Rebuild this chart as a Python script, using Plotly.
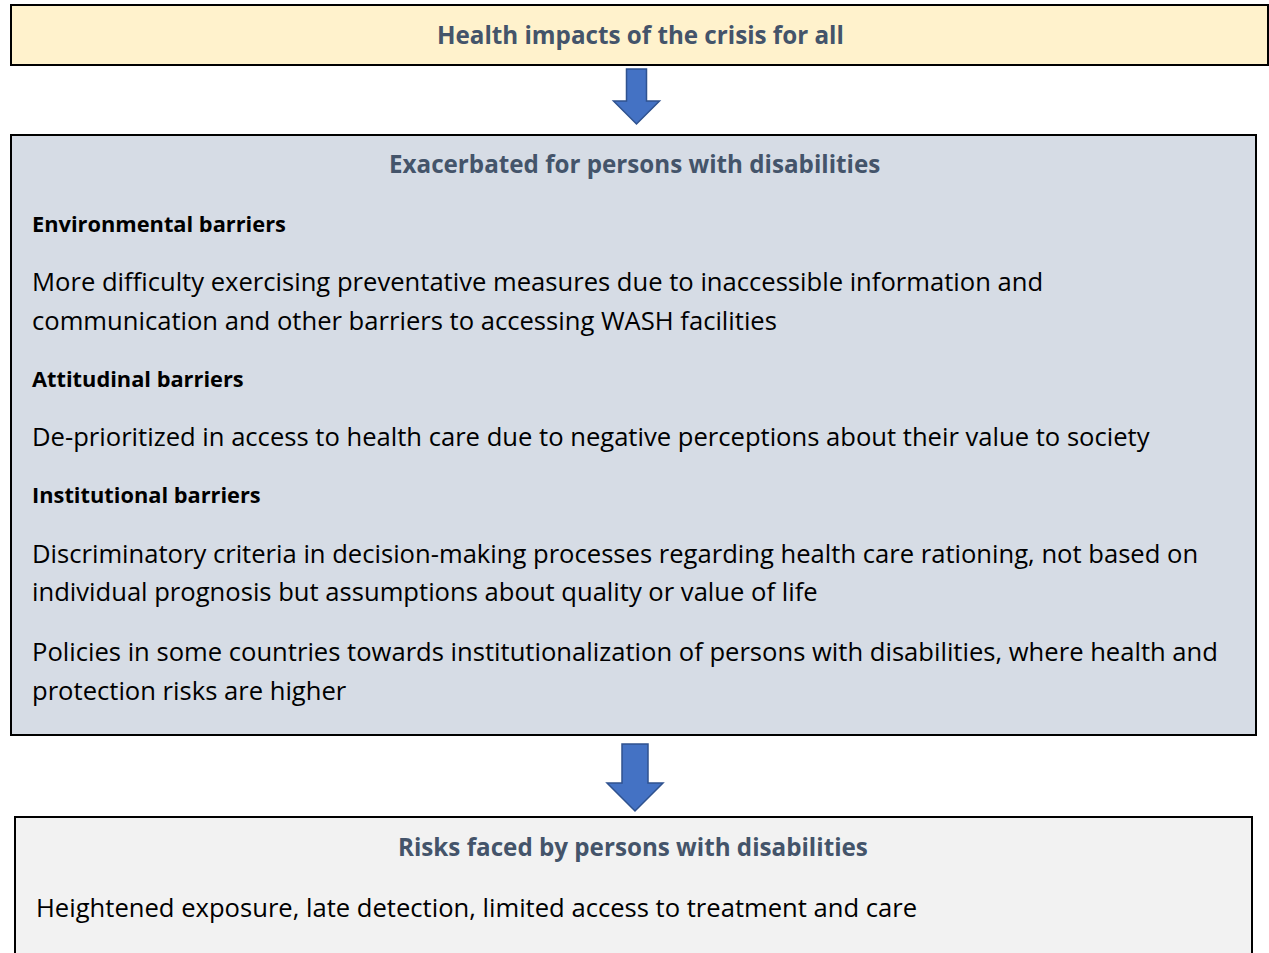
import plotly.graph_objects as go

W, H = 1269, 953
FONT = "Open Sans"

top_title = "Health impacts of the crisis for all"
mid_title = "Exacerbated for persons with disabilities"
bottom_title = "Risks faced by persons with disabilities"

# (text, bold, y)
mid_lines = [
    ("Environmental barriers", True, 223),
    ("More difficulty exercising preventative measures due to inaccessible information and", False, 281),
    ("communication and other barriers to accessing WASH facilities", False, 320),
    ("Attitudinal barriers", True, 378),
    ("De-prioritized in access to health care due to negative perceptions about their value to society", False, 436),
    ("Institutional barriers", True, 494),
    ("Discriminatory criteria in decision-making processes regarding health care rationing, not based on", False, 553),
    ("individual prognosis but assumptions about quality or value of life", False, 591),
    ("Policies in some countries towards institutionalization of persons with disabilities, where health and", False, 651),
    ("protection risks are higher", False, 690),
]
bottom_lines = [
    ("Heightened exposure, late detection, limited access to treatment and care", False, 907),
]

BODY = 25.6
SUB = 21.8
HEAD = 24.2

fig = go.Figure()

shapes = []
shapes.append(dict(type="rect", x0=11, x1=1268, y0=5, y1=65,
                   fillcolor="#FFF2CC", line=dict(color="#000000", width=2), layer="below"))
shapes.append(dict(type="rect", x0=11, x1=1256, y0=135, y1=735,
                   fillcolor="#D6DCE5", line=dict(color="#000000", width=2), layer="below"))
shapes.append(dict(type="rect", x0=15, x1=1252, y0=817, y1=970,
                   fillcolor="#F2F2F2", line=dict(color="#000000", width=2), layer="below"))


def arrow(xc, ytop, ybot, shaft_w, head_w, head_h):
    ys = ybot - head_h
    p = (f"M {xc-shaft_w/2},{ytop} L {xc+shaft_w/2},{ytop} L {xc+shaft_w/2},{ys} "
         f"L {xc+head_w/2},{ys} L {xc},{ybot} L {xc-head_w/2},{ys} L {xc-shaft_w/2},{ys} Z")
    return dict(type="path", path=p, fillcolor="#4472C4",
                line=dict(color="#2F528F", width=1.5))


shapes.append(arrow(636.5, 69, 124, 20, 46, 23))
shapes.append(arrow(635, 744, 811, 26, 56, 28))

ann = []
for txt, x, y in [(top_title, 640, 34), (mid_title, 634, 163), (bottom_title, 633, 846)]:
    ann.append(dict(x=x, y=y, text=f"<b>{txt}</b>", showarrow=False,
                    xanchor="center", yanchor="middle",
                    font=dict(family=FONT, size=HEAD, color="#44546A")))

for txt, bold, y in mid_lines:
    ann.append(dict(x=30, y=y, text=(f"<b>{txt}</b>" if bold else txt), showarrow=False,
                    xanchor="left", yanchor="middle",
                    font=dict(family=FONT, size=SUB if bold else BODY, color="#000000")))
for txt, bold, y in bottom_lines:
    ann.append(dict(x=34, y=y, text=txt, showarrow=False,
                    xanchor="left", yanchor="middle",
                    font=dict(family=FONT, size=BODY, color="#000000")))

fig.update_layout(
    width=W, height=H, margin=dict(l=0, r=0, t=0, b=0),
    paper_bgcolor="white", plot_bgcolor="white",
    xaxis=dict(range=[0, W], visible=False, fixedrange=True),
    yaxis=dict(range=[H, 0], visible=False, fixedrange=True),
    shapes=shapes, annotations=ann, showlegend=False,
)
fig.write_html("out.html", config={"displayModeBar": False},
               post_script="document.body.style.margin='0px';document.body.style.overflow='hidden';")
